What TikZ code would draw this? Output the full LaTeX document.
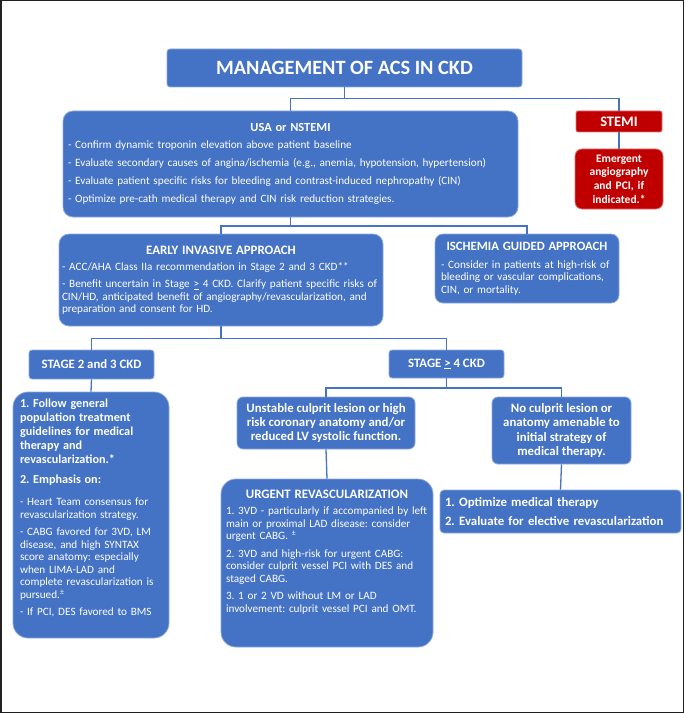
\documentclass[tikz,border=0pt]{standalone}
\usepackage{fontspec}
\setmainfont{Carlito}
\definecolor{mblue}{HTML}{4472C4}
\definecolor{eblue}{HTML}{8FAADC}
\definecolor{mred}{HTML}{C00000}
\definecolor{ered}{HTML}{E07070}
\definecolor{framecol}{HTML}{222222}
\newcommand{\hdr}[1]{\makebox[\linewidth][c]{#1}}
\newcommand{\geu}{\underline{>}}
\frenchspacing
\begin{document}
\begin{tikzpicture}[x=1pt,y=-1pt,
  box/.style={draw=eblue, line width=0.8pt, fill=mblue, text=white, inner sep=0pt, align=left},
  redbox/.style={draw=ered, line width=0.8pt, fill=mred, text=white, inner sep=0pt, align=center, font=\bfseries\fontsize{11.5}{13.7}\selectfont},
  conn/.style={draw=mblue, line width=1.3pt},
  body/.style={font=\fontsize{11.2}{12.5}\selectfont},
  bbold/.style={font=\bfseries\fontsize{12.8}{14.1}\selectfont},
]
\useasboundingbox (0,0) rectangle (685,714);
\draw[framecol, line width=1.5pt] (0.75,0.75) rectangle (683.6,712.6);

% title
\node[box, rounded corners=3pt, minimum width=355pt, minimum height=38pt, align=center,
  font=\bfseries\fontsize{20.3}{22}\selectfont] (title) at (344.5,68) {MANAGEMENT OF ACS IN CKD};

% USA
\node[box, body, rounded corners=10pt, minimum width=455pt, minimum height=106pt, text width=445pt] (usa) at (290.5,164)
{\setlength\parskip{5.4pt}\hdr{\bfseries\fontsize{12.4}{14}\selectfont USA or NSTEMI}\par\vspace{-1pt}
- Confirm dynamic troponin elevation above patient baseline\par
- Evaluate secondary causes of angina/ischemia (e.g., anemia, hypotension, hypertension)\par
- Evaluate patient specific risks for bleeding and contrast-induced nephropathy (CIN)\par
- Optimize pre-cath medical therapy and CIN risk reduction strategies.};

% STEMI
\node[redbox, rounded corners=2pt, minimum width=86pt, minimum height=21pt, font=\bfseries\fontsize{14.5}{15}\selectfont] (stemi) at (619,121.5) {STEMI};
\node[redbox, rounded corners=7pt, minimum width=88pt, minimum height=60pt, text width=86pt] (emerg) at (619,179)
{Emergent\\angiography\\and PCI, if\\indicated.*};

% Early invasive
\node[box, body, rounded corners=10pt, minimum width=324pt, minimum height=92pt, text width=318pt] (early) at (221,280)
{\setlength\parskip{4.2pt}\hdr{\bfseries\fontsize{12.9}{14}\selectfont EARLY INVASIVE APPROACH}\par
- ACC/AHA Class IIa recommendation in Stage 2 and 3 CKD**\par
- Benefit uncertain in Stage \geu{} 4 CKD. Clarify patient specific risks of\newline
CIN/HD, anticipated benefit of angiography/revascularization, and\newline
preparation and consent for HD.};

% Ischemia guided
\node[box, body, rounded corners=8pt, minimum width=184pt, minimum height=69pt, text width=172pt] (isch) at (527,268.5)
{\setlength\parskip{5pt}\hdr{\bfseries\fontsize{12.7}{14}\selectfont ISCHEMIA GUIDED APPROACH}\par
- Consider in patients at high-risk of\newline
bleeding or vascular complications,\newline
CIN, or mortality.};

% Stage boxes
\node[box, bbold, rounded corners=3pt, minimum width=125pt, minimum height=29pt, align=center] (st23) at (91.5,364.5) {STAGE 2 and 3 CKD};
\node[box, bbold, rounded corners=3pt, minimum width=115pt, minimum height=28pt, align=center] (st4) at (446.5,364) {STAGE \geu{} 4 CKD};

% Big stage 2-3 box
\node[box, body, rounded corners=15pt, minimum width=156pt, minimum height=246pt, text width=142pt] (big23) at (91,515)
{{\bfseries\fontsize{12.2}{14.1}\selectfont 1. Follow general\newline population treatment\newline guidelines for medical\newline therapy and\newline revascularization.*\par\vspace{5pt}
2. Emphasis on:\par}\vspace{5pt}
\setlength\parskip{5pt}
- Heart Team consensus for\newline revascularization strategy.\par
- CABG favored for 3VD, LM\newline disease, and high SYNTAX\newline score anatomy: especially\newline when LIMA-LAD and\newline complete revascularization is\newline pursued.\textsuperscript{±}\par
- If PCI, DES favored to BMS\par\vspace{14pt}};

% Unstable
\node[box, bbold, rounded corners=6pt, minimum width=178pt, minimum height=52pt, align=center] (unst) at (326,423)
{Unstable culprit lesion or high\\risk coronary anatomy and/or\\reduced LV systolic function.};

% No culprit
\node[box, bbold, rounded corners=6pt, minimum width=139pt, minimum height=67pt, align=center] (nocul) at (561.5,430.5)
{No culprit lesion or\\anatomy amenable to\\initial strategy of\\medical therapy.};

% Urgent
\node[box, body, rounded corners=15pt, minimum width=212pt, minimum height=168pt, text width=202pt] (urgent) at (327,563)
{\setlength\parskip{5pt}\hdr{\bfseries\fontsize{12.9}{14}\selectfont URGENT REVASCULARIZATION}\par\vspace{-1pt}
1. 3VD - particularly if accompanied by left\newline main or proximal LAD disease: consider\newline urgent CABG. \textsuperscript{±}\par
2. 3VD and high-risk for urgent CABG:\newline consider culprit vessel PCI with DES and\newline staged CABG.\par
3. 1 or 2 VD without LM or LAD\newline involvement: culprit vessel PCI and OMT.\par\vspace{22pt}};

% Optimize
\node[box, bbold, rounded corners=4pt, minimum width=241pt, minimum height=43pt, text width=231pt] (optim) at (560.5,511.5)
{\setlength\parskip{5pt}1. Optimize medical therapy\par 2. Evaluate for elective revascularization};

% connectors
\draw[conn] (title.south) -- ++(0,11) coordinate (j1);
\draw[conn] (usa.north) |- (j1) -| (stemi.north);
\draw[conn] (stemi.south) -- (emerg.north);
\draw[conn] (usa.south) -- ++(0,8.5) coordinate (j2);
\draw[conn] (early.north) |- (j2) -| (isch.north);
\draw[conn] (early.south) -- ++(0,12) coordinate (j3);
\draw[conn] (st23.north) |- (j3) -| (st4.north);
\draw[conn] (st23.south) -- (big23.north);
\draw[conn] (st4.south) -- ++(0,9.5) coordinate (j4);
\draw[conn] (unst.north) |- (j4) -| (nocul.north);
\draw[conn] (unst.south) -- (urgent.north);
\draw[conn] (nocul.south) -- (optim.north);
\end{tikzpicture}
\end{document}
